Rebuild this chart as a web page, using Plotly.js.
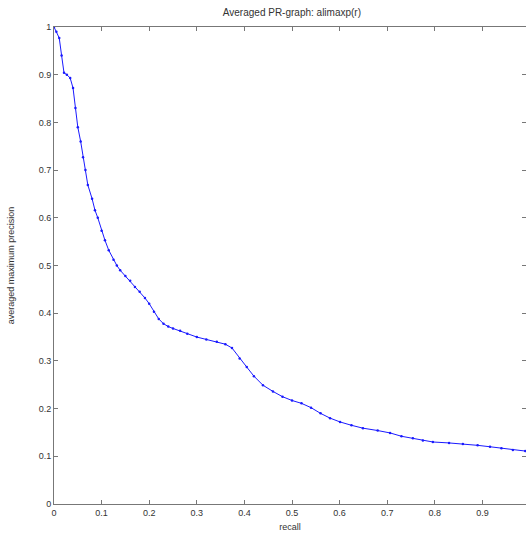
<!DOCTYPE html>
<html>
<head>
<meta charset="utf-8">
<script src="https://cdn.plot.ly/plotly-3.0.1.min.js"></script>
<style>html,body{margin:0;padding:0;background:#fff;}#chart{width:526px;height:538px;}</style>
</head>
<body>
<div id="chart"></div>
<script>
const recall = [0, 0.005, 0.011, 0.016, 0.021, 0.027, 0.034, 0.04, 0.045, 0.05, 0.056, 0.061, 0.066, 0.071, 0.08, 0.086, 0.092, 0.1, 0.107, 0.115, 0.125, 0.132, 0.139, 0.15, 0.16, 0.17, 0.18, 0.191, 0.2, 0.21, 0.22, 0.23, 0.24, 0.25, 0.265, 0.28, 0.3, 0.32, 0.342, 0.36, 0.374, 0.39, 0.405, 0.42, 0.439, 0.46, 0.48, 0.5, 0.52, 0.54, 0.56, 0.58, 0.601, 0.625, 0.649, 0.68, 0.706, 0.73, 0.754, 0.775, 0.796, 0.83, 0.859, 0.89, 0.916, 0.94, 0.964, 0.99];
const precision = [1.0, 0.99, 0.977, 0.94, 0.904, 0.9, 0.893, 0.872, 0.83, 0.79, 0.76, 0.727, 0.70, 0.669, 0.64, 0.616, 0.6, 0.573, 0.553, 0.532, 0.512, 0.5, 0.49, 0.478, 0.468, 0.455, 0.445, 0.432, 0.42, 0.403, 0.388, 0.378, 0.372, 0.368, 0.363, 0.357, 0.35, 0.345, 0.34, 0.335, 0.327, 0.305, 0.287, 0.268, 0.249, 0.236, 0.225, 0.217, 0.211, 0.202, 0.19, 0.18, 0.172, 0.165, 0.159, 0.154, 0.149, 0.142, 0.138, 0.133, 0.13, 0.128, 0.126, 0.123, 0.12, 0.117, 0.113, 0.111];
const xTicks = [0, 0.1, 0.2, 0.3, 0.4, 0.5, 0.6, 0.7, 0.8, 0.9];
const xTickText = ["0", "0.1", "0.2", "0.3", "0.4", "0.5", "0.6", "0.7", "0.8", "0.9"];
const yTicks = [0, 0.1, 0.2, 0.3, 0.4, 0.5, 0.6, 0.7, 0.8, 0.9, 1];
const yTickText = ["0", "0.1", "0.2", "0.3", "0.4", "0.5", "0.6", "0.7", "0.8", "0.9", "1"];

const font = {family: "Liberation Sans, Arial, sans-serif", size: 9, color: "#333"};
Plotly.newPlot("chart", [{
  x: recall, y: precision, type: "scatter", mode: "lines+markers",
  line: {color: "#1a1aff", width: 1},
  marker: {color: "#1a1aff", size: 2.5},
  hoverinfo: "none"
}], {
  width: 526, height: 538,
  margin: {l: 54, r: 0, t: 27, b: 34},
  paper_bgcolor: "#fff", plot_bgcolor: "#fff",
  showlegend: false,
  font: font,
  title: {text: "Averaged PR-graph: alimaxp(r)", font: {family: "Liberation Sans, Arial, sans-serif", size: 10, color: "#333"}, x: 0.555, xanchor: "center", y: 0.983, yanchor: "top"},
  xaxis: {
    range: [0, 0.9916], tickvals: xTicks, ticktext: xTickText,
    ticks: "inside", ticklen: 4, tickcolor: "#777", showline: true, linecolor: "#777", linewidth: 1,
    mirror: "ticks", showgrid: false, zeroline: false,
    title: {text: "recall", font: font, standoff: 6}
  },
  yaxis: {
    range: [0, 1], tickvals: yTicks, ticktext: yTickText,
    ticks: "inside", ticklen: 4, tickcolor: "#777", showline: true, linecolor: "#777", linewidth: 1,
    mirror: "ticks", showgrid: false, zeroline: false,
    title: {text: "averaged maximum precision", font: font, standoff: 22}
  }
}, {staticPlot: true});
</script>
</body>
</html>
